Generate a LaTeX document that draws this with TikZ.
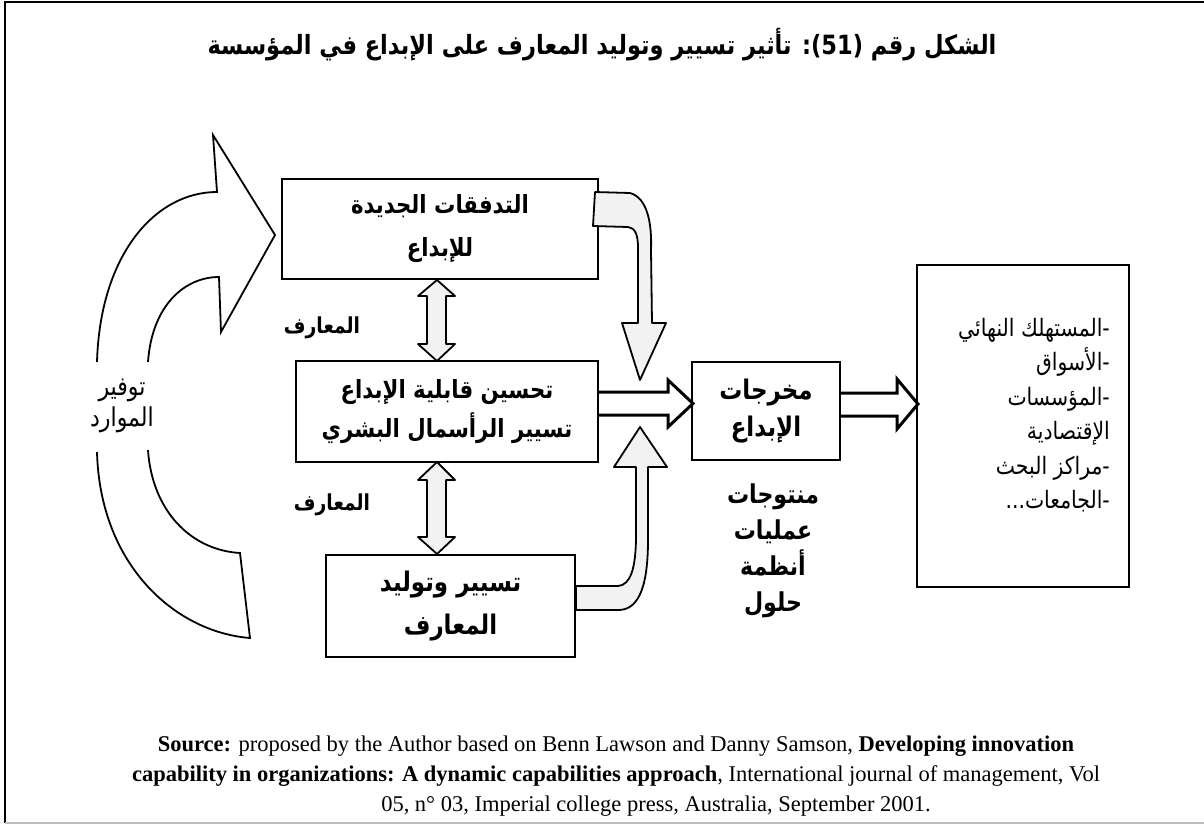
\documentclass[tikz,border=0pt]{standalone}
\usepackage{fontspec}
\setmainfont{Liberation Serif}
\newfontfamily\arabicfont[Script=Arabic, FakeStretch=0.85]{DejaVu Sans}
\TeXXeTstate=1
\definecolor{arrowfill}{HTML}{F2F2F2}
\definecolor{framegray}{HTML}{BDBDBD}
\begin{document}
\begin{tikzpicture}[x=1pt,y=-1pt,
  box/.style={draw, line width=1.8pt, inner sep=0pt, align=center,
    font=\arabicfont\bfseries\fontsize{25}{43}\selectfont},
  bigbox/.style={box, font=\arabicfont\bfseries\fontsize{27}{43}\selectfont},
  grayarrow/.style={draw, fill=arrowfill, line width=1.8pt, line join=round},
  whitearrow/.style={draw, fill=white, line width=3pt, line join=miter},
  outline/.style={draw, line width=1.8pt, line join=miter},
  boldlabel/.style={inner sep=0pt, align=center,
    font=\arabicfont\bfseries\fontsize{22}{35}\selectfont},
  plainlabel/.style={inner sep=0pt, align=center,
    font=\arabicfont\fontsize{26}{31}\selectfont}]

\useasboundingbox (0,0) rectangle (1204,827);

% page frame
\draw[line width=2.5pt] (1204,2) -- (5,2) -- (5,823);
\draw[framegray, line width=2pt] (5,823) -- (1204,823);

% title
\node[inner sep=0pt, font=\arabicfont\bfseries\fontsize{26.5}{30}\selectfont] (title) at (602,45)
  {\beginR الشكل رقم \beginL(51)\endL: تأثير تسيير وتوليد المعارف على الإبداع في المؤسسة\endR};

% main boxes
\node[box, minimum width=316pt, minimum height=100pt] (flux) at (440,229)
  {\beginR التدفقات الجديدة\endR\\\beginR للإبداع\endR};
\node[box, minimum width=302pt, minimum height=101pt] (capab) at (447,411.5)
  {\beginR تحسين قابلية الإبداع\endR\\[-4pt]\beginR تسيير الرأسمال البشري\endR};
\node[bigbox, minimum width=249pt, minimum height=102pt] (know) at (450.5,606)
  {\beginR تسيير وتوليد\endR\\\beginR المعارف\endR};
\node[bigbox, minimum width=148pt, minimum height=98pt] (outp) at (766,411)
  {\beginR مخرجات\endR\\[-6pt]\beginR الإبداع\endR};
\node[draw, line width=1.8pt, minimum width=212pt, minimum height=322pt] (mkt) at (1023,426) {};

% list inside the market box
\node[inner sep=0pt, anchor=north east, align=right,
  font=\arabicfont\fontsize{24}{34.5}\selectfont] (mktlist) at (1110,318)
  {\beginR -المستهلك النهائي\endR\\
   \beginR -الأسواق\endR\\
   \beginR -المؤسسات\endR\\
   \beginR الإقتصادية\endR\\
   \beginR -مراكز البحث\endR\\
   \beginR -الجامعات...\endR};

% labels
\node[boldlabel] (k1) at (322,328) {\beginR المعارف\endR};
\node[boldlabel] (k2) at (332,505) {\beginR المعارف\endR};
\node[boldlabel, anchor=north, font=\arabicfont\bfseries\fontsize{26}{36}\selectfont] (kinds) at (773,484)
  {\beginR منتوجات\endR\\\beginR عمليات\endR\\\beginR أنظمة\endR\\\beginR حلول\endR};
\node[plainlabel] (res) at (122,406) {\beginR توفير\endR\\\beginR الموارد\endR};

% double arrows carrying knowledge
\path[grayarrow] (437,280) -- (455,296) -- (446,296) -- (446,344) -- (455,344) -- (437,361)
  -- (418,344) -- (427,344) -- (427,296) -- (418,296) -- cycle;
\path[grayarrow] (437,462) -- (455,480) -- (446,480) -- (446,537) -- (455,537) -- (437,554)
  -- (418,537) -- (427,537) -- (427,480) -- (418,480) -- cycle;

% bent arrow from the new flows down to the outputs
\path[grayarrow] (595,192) -- (630,193) .. controls (648,198) and (652,225) .. (651,250)
  -- (652,323) -- (666,323) -- (640,380) -- (622,323) -- (638,323) -- (638,248)
  .. controls (638,234) and (635,228) .. (628,227) -- (593,226) -- cycle;

% bent arrow from knowledge management up to the outputs
\path[grayarrow] (576,586) -- (618,586) .. controls (630,585) and (636,570) .. (636,535)
  -- (636,467) -- (614,467) -- (640,427) -- (667,467) -- (648,467) -- (648,540)
  .. controls (648,595) and (635,610) .. (618,610) -- (576,610) -- cycle;

% outline arrows
\path[whitearrow] (599,392) -- (668,392) -- (668,380) -- (693,403.5) -- (668,427) -- (668,415) -- (599,415);
\path[whitearrow] (841,393) -- (897,393) -- (897,379) -- (918,404) -- (897,429) -- (897,416) -- (841,416);

% large curved resource arrow, broken around its label
\path[outline] (97,362) .. controls (100,255) and (155,192) .. (217,192)
  -- (213,135) -- (275,235) -- (221,332) -- (219,277)
  .. controls (185,277) and (152,305) .. (148,362);
\path[outline] (97,452) .. controls (100,565) and (175,632) .. (250,638)
  -- (240,553) .. controls (190,550) and (152,510) .. (148,450);

% source note
\node[inner sep=0pt, align=center, font=\fontsize{22.5}{30}\selectfont] (src) at (616,776)
  {\textbf{Source:} proposed by the Author based on Benn Lawson and Danny Samson, \textbf{Developing innovation}\\
   \textbf{capability in organizations: A dynamic capabilities approach}, International journal of management, Vol\\
   \hspace*{80pt}05, n° 03, Imperial college press, Australia, September 2001.};

\end{tikzpicture}
\end{document}
